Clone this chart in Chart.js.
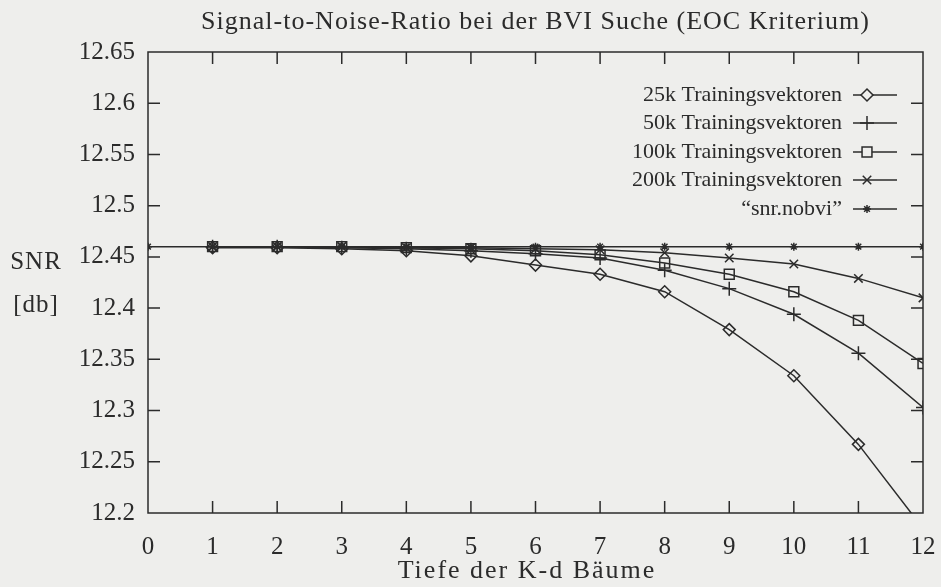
<!DOCTYPE html>
<html>
<head>
<meta charset="utf-8">
<script src="https://cdn.jsdelivr.net/npm/chart.js@4/dist/chart.umd.min.js"></script>
<style>
  html, body { margin: 0; padding: 0; background: #eeeeec; }
  #wrap { width: 941px; height: 587px; position: relative; }
</style>
</head>
<body>
<div id="wrap"><canvas id="snr"></canvas></div>
<script>
// Tiefe der K-d Baeume
const depths = [1, 2, 3, 4, 5, 6, 7, 8, 9, 10, 11, 12]
const depthsAll = [0, 1, 2, 3, 4, 5, 6, 7, 8, 9, 10, 11, 12]

// SNR [db] per Trainingsmenge
const snr25k = [12.459, 12.459, 12.458, 12.456, 12.451, 12.442, 12.433, 12.416, 12.379, 12.334, 12.267, 12.185]
const snr50k = [12.460, 12.460, 12.459, 12.458, 12.456, 12.453, 12.449, 12.437, 12.419, 12.394, 12.356, 12.303]
const snr100k = [12.460, 12.460, 12.460, 12.459, 12.458, 12.456, 12.452, 12.444, 12.433, 12.416, 12.388, 12.346]
const snr200k = [12.460, 12.460, 12.460, 12.459, 12.459, 12.458, 12.457, 12.454, 12.449, 12.443, 12.429, 12.410]
const snrNobvi = [12.46, 12.46, 12.46, 12.46, 12.46, 12.46, 12.46, 12.46, 12.46, 12.46, 12.46, 12.46, 12.46]

const xTicks = [0, 1, 2, 3, 4, 5, 6, 7, 8, 9, 10, 11, 12]
const yTicks = [12.2, 12.25, 12.3, 12.35, 12.4, 12.45, 12.5, 12.55, 12.6, 12.65]

const INK = '#2b2b2b'
const BG = '#eeeeec'
const FONT = '"Liberation Serif", "DejaVu Serif", serif'

const toPoints = (xs, ys) => xs.map((x, i) => ({ x, y: ys[i] }))

const series = [
  { label: '25k Trainingsvektoren', data: toPoints(depths, snr25k), style: 'rectRot', r: 6 },
  { label: '50k Trainingsvektoren', data: toPoints(depths, snr50k), style: 'cross', r: 7 },
  { label: '100k Trainingsvektoren', data: toPoints(depths, snr100k), style: 'rect', r: 7 },
  { label: '200k Trainingsvektoren', data: toPoints(depths, snr200k), style: 'crossRot', r: 6 },
  { label: '\u201csnr.nobvi\u201d', data: toPoints(depthsAll, snrNobvi), style: 'star', r: 4 }
]

// frame, inner ticks, texts and legend, gnuplot style
const framePlugin = {
  id: 'frame',
  beforeDraw(chart) {
    const ctx = chart.ctx
    ctx.save()
    ctx.fillStyle = BG
    ctx.fillRect(0, 0, chart.width, chart.height)
    ctx.restore()
  },
  afterDraw(chart) {
    const { ctx, chartArea: a, scales } = chart
    const tl = 12
    ctx.save()
    ctx.strokeStyle = INK
    ctx.lineWidth = 1.5
    ctx.strokeRect(a.left, a.top, a.right - a.left, a.bottom - a.top)
    ctx.beginPath()
    xTicks.slice(1, -1).forEach(v => {
      const px = scales.x.getPixelForValue(v)
      ctx.moveTo(px, a.bottom); ctx.lineTo(px, a.bottom - tl)
      ctx.moveTo(px, a.top); ctx.lineTo(px, a.top + tl)
    })
    yTicks.slice(1, -1).forEach(v => {
      const py = scales.y.getPixelForValue(v)
      ctx.moveTo(a.left, py); ctx.lineTo(a.left + tl, py)
      ctx.moveTo(a.right, py); ctx.lineTo(a.right - tl, py)
    })
    ctx.stroke()

    ctx.fillStyle = INK
    ctx.textAlign = 'center'
    ctx.textBaseline = 'middle'
    ctx.font = '26px ' + FONT
    ctx.letterSpacing = '1px'
    ctx.fillText('Signal-to-Noise-Ratio bei der BVI Suche (EOC Kriterium)', (a.left + a.right) / 2, 22)
    ctx.letterSpacing = '2px'
    ctx.fillText('Tiefe der K-d B\u00e4ume', 527, 571)
    ctx.letterSpacing = '1px'
    ctx.font = '25px ' + FONT
    ctx.fillText('SNR', 36, 262)
    ctx.fillText('[db]', 36, 305)
    ctx.letterSpacing = '0px'

    // legend
    ctx.font = '22px ' + FONT
    ctx.textAlign = 'right'
    const rows = [95, 123, 152, 180, 209]
    chart.data.datasets.forEach((ds, i) => {
      const y = rows[i]
      ctx.fillStyle = INK
      ctx.fillText(ds.label, 842, y)
      ctx.beginPath()
      ctx.moveTo(853, y); ctx.lineTo(897, y)
      ctx.stroke()
      ctx.fillStyle = BG
      Chart.helpers.drawPoint(ctx, {
        pointStyle: ds.pointStyle, radius: ds.pointRadius, borderWidth: 1.5
      }, 867, y)
    })
    ctx.restore()
  }
}

new Chart(document.getElementById('snr'), {
  type: 'line',
  data: {
    datasets: series.map(s => ({
      label: s.label,
      data: s.data,
      borderColor: INK,
      borderWidth: 1.5,
      pointStyle: s.style,
      pointRadius: s.r,
      pointBorderColor: INK,
      pointBorderWidth: 1.5,
      pointBackgroundColor: 'rgba(0,0,0,0)',
      tension: 0,
      fill: false
    }))
  },
  options: {
    responsive: true,
    maintainAspectRatio: false,
    animation: false,
    layout: { padding: { top: 52, right: 18, left: 0, bottom: 0 } },
    plugins: {
      legend: { display: false },
      tooltip: { enabled: false }
    },
    scales: {
      x: {
        type: 'linear',
        min: 0,
        max: 12,
        afterBuildTicks: (scale) => { scale.ticks = xTicks.map(v => ({ value: v })) },
        afterFit: (scale) => {
          scale.height = 74
          scale.paddingLeft = 0
          scale.paddingRight = 0
        },
        ticks: {
          color: INK,
          padding: 19,
          maxRotation: 0,
          autoSkip: false,
          font: { family: FONT, size: 25 }
        },
        grid: { display: false, drawTicks: false },
        border: { display: false }
      },
      y: {
        min: 12.2,
        max: 12.65,
        afterBuildTicks: (scale) => { scale.ticks = yTicks.map(v => ({ value: v })) },
        afterFit: (scale) => {
          scale.width = 148
          scale.paddingTop = 0
          scale.paddingBottom = 0
        },
        ticks: {
          color: INK,
          padding: 13,
          autoSkip: false,
          font: { family: FONT, size: 25 },
          callback: (v) => String(+v.toFixed(2))
        },
        grid: { display: false, drawTicks: false },
        border: { display: false }
      }
    }
  },
  plugins: [framePlugin]
})
</script>
</body>
</html>
